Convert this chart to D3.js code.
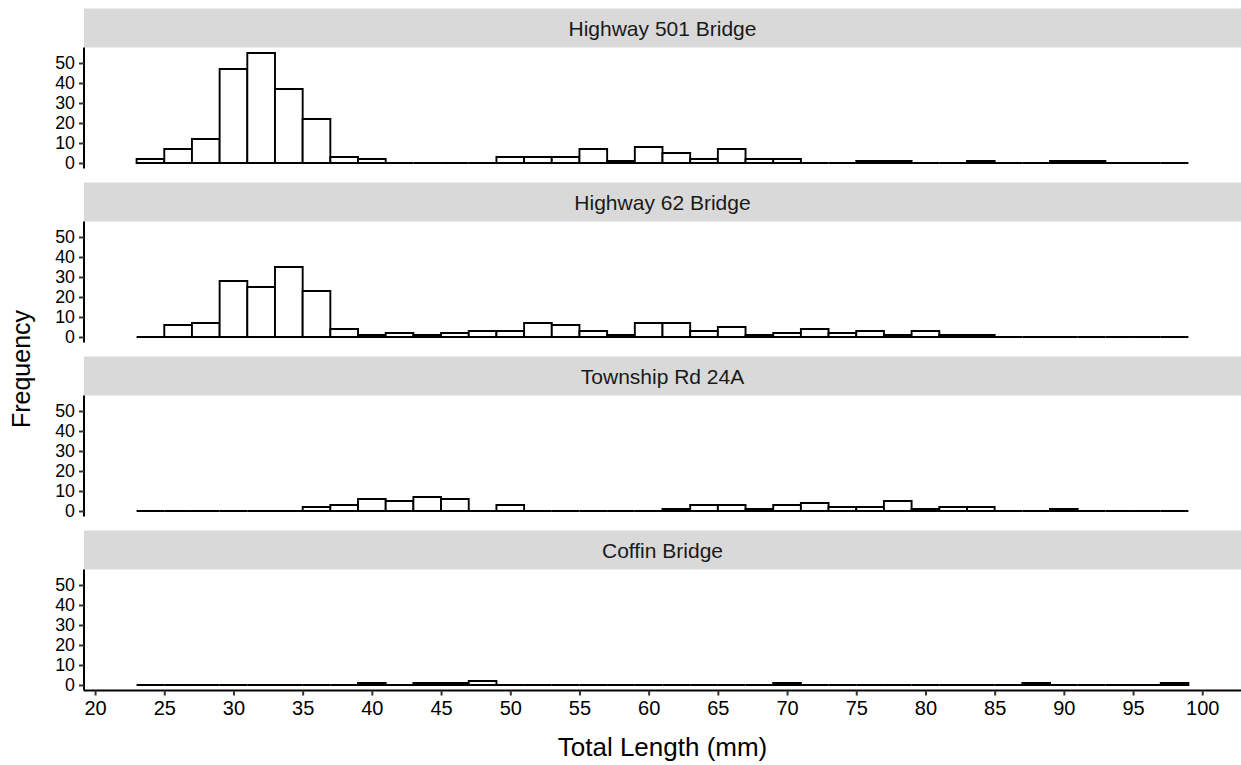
<!DOCTYPE html>
<html>
<head>
<meta charset="utf-8">
<script src="https://cdn.jsdelivr.net/npm/d3@7"></script>
<style>
  html, body { margin: 0; padding: 0; background: #fff; }
  svg { display: block; font-family: "Liberation Sans", Arial, sans-serif; }
</style>
</head>
<body>
<svg id="chart" width="1241" height="765"></svg>
<script>
// ---- data ----
const sites = ["Highway 501 Bridge", "Highway 62 Bridge", "Township Rd 24A", "Coffin Bridge"];
const binStart = [23, 25, 27, 29, 31, 33, 35, 37, 39, 41, 43, 45, 47, 49, 51, 53, 55, 57, 59,
                  61, 63, 65, 67, 69, 71, 73, 75, 77, 79, 81, 83, 85, 87, 89, 91, 93, 95, 97];
const binWidth = 2;
const countsHwy501 = [2, 7, 12, 47, 55, 37, 22, 3, 2, 0, 0, 0, 0, 3, 3, 3, 7, 1, 8,
                      5, 2, 7, 2, 2, 0, 0, 1, 1, 0, 0, 1, 0, 0, 1, 1, 0, 0, 0];
const countsHwy62  = [0, 6, 7, 28, 25, 35, 23, 4, 1, 2, 1, 2, 3, 3, 7, 6, 3, 1, 7,
                      7, 3, 5, 1, 2, 4, 2, 3, 1, 3, 1, 1, 0, 0, 0, 0, 0, 0, 0];
const countsTwp24A = [0, 0, 0, 0, 0, 0, 2, 3, 6, 5, 7, 6, 0, 3, 0, 0, 0, 0, 0,
                      1, 3, 3, 1, 3, 4, 2, 2, 5, 1, 2, 2, 0, 0, 1, 0, 0, 0, 0];
const countsCoffin = [0, 0, 0, 0, 0, 0, 0, 0, 1, 0, 1, 1, 2, 0, 0, 0, 0, 0, 0,
                      0, 0, 0, 0, 1, 0, 0, 0, 0, 0, 0, 0, 0, 1, 0, 0, 0, 0, 1];
const seriesCounts = [countsHwy501, countsHwy62, countsTwp24A, countsCoffin];
const xTicks = [20, 25, 30, 35, 40, 45, 50, 55, 60, 65, 70, 75, 80, 85, 90, 95, 100];
const yTicks = [0, 10, 20, 30, 40, 50];
const xTitle = "Total Length (mm)";
const yTitle = "Frequency";

// ---- layout ----
const svg = d3.select("#chart");
const panelLeft = 84, panelRight = 1241;
const stripH = 39, panelH = 121, panelStep = 174, firstStripTop = 8.5;

const xMin = d3.min(binStart), xMax = d3.max(binStart) + binWidth;
const xPad = (xMax - xMin) * 0.05;
const x = d3.scaleLinear().domain([xMin - xPad, xMax + xPad]).range([panelLeft, panelRight]);
const yMaxData = d3.max(seriesCounts, s => d3.max(s));
const yPad = yMaxData * 0.05;

const TEXT = "#000";
const XTICK_FS = 20;
const YTICK_FS = 17.8;

sites.forEach((site, i) => {
  const stripTop = firstStripTop + i * panelStep;
  const pTop = stripTop + stripH;
  const pBot = pTop + panelH;
  const y = d3.scaleLinear().domain([-yPad, yMaxData + yPad]).range([pBot, pTop]);

  // strip
  svg.append("rect")
    .attr("x", panelLeft).attr("y", stripTop)
    .attr("width", panelRight - panelLeft).attr("height", stripH)
    .attr("fill", "#D9D9D9");
  svg.append("text")
    .attr("x", (panelLeft + panelRight) / 2)
    .attr("y", stripTop + stripH / 2)
    .attr("dy", "0.36em")
    .attr("text-anchor", "middle")
    .attr("font-size", 21)
    .attr("fill", "#1A1A1A")
    .text(site);

  // bars
  const data = binStart.map((b, j) => ({ x0: b, x1: b + binWidth, n: seriesCounts[i][j] }));
  svg.append("g").selectAll("path")
    .data(data)
    .join("path")
    .attr("d", d => {
      const p = d3.path();
      p.moveTo(x(d.x0), y(0));
      p.lineTo(x(d.x0), y(d.n));
      p.lineTo(x(d.x1), y(d.n));
      p.lineTo(x(d.x1), y(0));
      p.closePath();
      return p.toString();
    })
    .attr("fill", "#fff")
    .attr("stroke", "#000")
    .attr("stroke-width", 1.9)
    .attr("stroke-linejoin", "miter");

  // y axis
  const gy = svg.append("g")
    .attr("transform", `translate(${panelLeft},0)`)
    .call(d3.axisLeft(y).tickValues(yTicks).tickSize(5).tickPadding(4).tickSizeOuter(0));
  gy.select(".domain").attr("stroke", "#000").attr("stroke-width", 2)
    .attr("d", `M0,${pTop}V${pBot}`);
  gy.selectAll(".tick line").attr("stroke", "#333").attr("stroke-width", 2);
  gy.selectAll(".tick text")
    .attr("font-size", YTICK_FS).attr("fill", TEXT)
    .attr("font-family", "Liberation Sans, Arial, sans-serif");

  // x axis only on bottom panel
  if (i === sites.length - 1) {
    const gx = svg.append("g")
      .attr("transform", `translate(0,${pBot})`)
      .call(d3.axisBottom(x).tickValues(xTicks).tickSize(5).tickPadding(5).tickSizeOuter(0));
    gx.select(".domain").attr("stroke", "#000").attr("stroke-width", 2)
      .attr("d", `M${panelLeft},0H${panelRight}`);
    gx.selectAll(".tick line").attr("stroke", "#333").attr("stroke-width", 2);
    gx.selectAll(".tick text")
      .attr("font-size", XTICK_FS).attr("fill", TEXT)
      .attr("font-family", "Liberation Sans, Arial, sans-serif");

    svg.append("text")
      .attr("x", (panelLeft + panelRight) / 2)
      .attr("y", pBot + 65)
      .attr("text-anchor", "middle")
      .attr("font-size", 26)
      .attr("fill", TEXT)
      .text(xTitle);
  }
});

// y title
const plotTop = firstStripTop + stripH;
const plotBot = firstStripTop + (sites.length - 1) * panelStep + stripH + panelH;
svg.append("text")
  .attr("transform", `translate(30,${(plotTop + plotBot) / 2}) rotate(-90)`)
  .attr("text-anchor", "middle")
  .attr("font-size", 25)
  .attr("fill", TEXT)
  .text(yTitle);
</script>
</body>
</html>
